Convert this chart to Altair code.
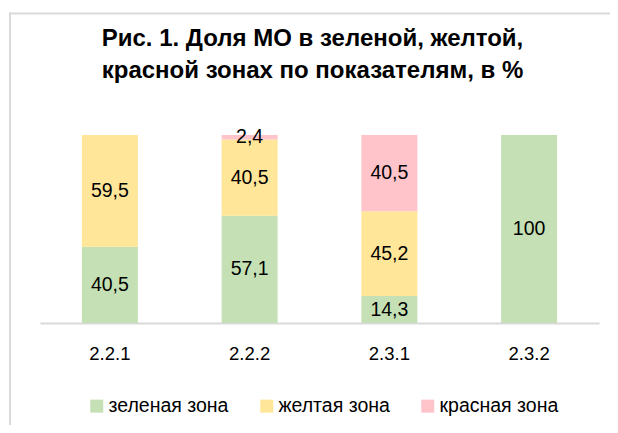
import altair as alt
import pandas as pd

categories = ["2.2.1", "2.2.2", "2.3.1", "2.3.2"]
zones = ["зеленая зона", "желтая зона", "красная зона"]
green = [40.5, 57.1, 14.3, 100]
yellow = [59.5, 40.5, 45.2, 0]
red = [0, 2.4, 40.5, 0]
colors = ["#c5e0b4", "#ffe699", "#ffc4ca"]
title_lines = ["Рис. 1. Доля МО в зеленой, желтой,", "красной зонах по показателям, в %"]

rows = []
for i, c in enumerate(categories):
    for k, (z, vals) in enumerate(zip(zones, [green, yellow, red])):
        v = vals[i]
        lab = str(int(v)) if float(v).is_integer() else str(v).replace(".", ",")
        rows.append({"cat": c, "zone": z, "value": v, "order": k, "label": lab})
df = pd.DataFrame(rows)

FONT = "Liberation Sans, Arial, sans-serif"

base = (
    alt.Chart(df)
    .transform_filter("datum.value > 0")
    .transform_stack(stack="value", groupby=["cat"], as_=["y0", "y1"],
                     sort=[alt.SortField("order", order="ascending")])
    .transform_calculate(mid="(datum.y0 + datum.y1) / 2")
)

x = alt.X("cat:N", sort=categories, title=None,
          scale=alt.Scale(paddingInner=0, paddingOuter=0),
          axis=alt.Axis(labelAngle=0, ticks=False, domainColor="#d9d9d9", domainWidth=2,
                        labelFont=FONT, labelFontSize=18.5, labelColor="#000000",
                        labelPadding=21, grid=False))

bars = base.mark_bar(size=56).encode(
    x=x,
    y=alt.Y("y0:Q", scale=alt.Scale(domain=[0, 100]), axis=None),
    y2="y1:Q",
    color=alt.Color("zone:N", sort=zones,
                    scale=alt.Scale(domain=zones, range=colors),
                    legend=alt.Legend(title=None, orient="none", direction="horizontal",
                                      legendX=47, legendY=261, symbolType="square",
                                      symbolSize=169, symbolStrokeWidth=0,
                                      labelFont=FONT, labelFontSize=19.5, labelColor="#000000",
                                      labelOffset=2, columnPadding=28, padding=0)),
)

text = base.mark_text(fontSize=19.5, font=FONT, color="#000000", baseline="middle").encode(
    x=alt.X("cat:N", sort=categories),
    y=alt.Y("mid:Q"),
    text="label:N",
)

title_df = pd.DataFrame({"t": ["\n".join(title_lines)]})
title = alt.Chart(title_df).mark_text(
    font=FONT, fontSize=24, fontWeight="bold", color="#000000", lineBreak="\n",
    lineHeight=32, align="center", baseline="alphabetic"
).encode(x=alt.value(272.5), y=alt.value(-89), text="t:N")

frame_df = pd.DataFrame({"a": [0]})
frame_top = alt.Chart(frame_df).mark_rect(fill="#d9d9d9", strokeWidth=0, clip=False).encode(
    x=alt.value(-31), x2=alt.value(620), y=alt.value(-122.5), y2=alt.value(-120.5)
)
frame_left = alt.Chart(frame_df).mark_rect(fill="#d9d9d9", strokeWidth=0, clip=False).encode(
    x=alt.value(-31), x2=alt.value(-29), y=alt.value(-122.5), y2=alt.value(400)
)

chart = (
    alt.layer(frame_top, frame_left, title, bars, text)
    .properties(
        width=559, height=188,
        padding={"left": 32, "top": 127, "right": 11, "bottom": 102},
        autosize=alt.AutoSizeParams(type="none"),
    )
    .configure_view(stroke=None)
)

chart.save("out.html", embed_options={"renderer": "svg", "actions": False})
